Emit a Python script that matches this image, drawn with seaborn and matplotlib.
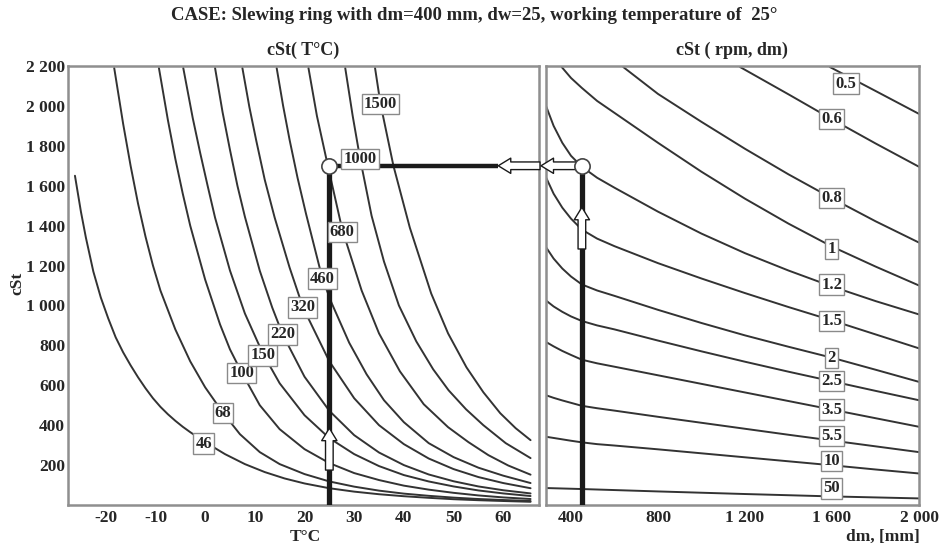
import matplotlib
matplotlib.use("Agg")
import matplotlib.pyplot as plt
import seaborn as sns
from matplotlib.patches import FancyArrowPatch, ArrowStyle

# ---------------- data ----------------
TITLE = "CASE: Slewing ring with dm=400 mm, dw=25, working temperature of  25°"
LEFT_TITLE = "cSt( T°C)"
RIGHT_TITLE = "cSt ( rpm, dm)"

# Left panel: viscosity (cSt) vs temperature for ISO VG grades
vg_labels = ["46", "68", "100", "150", "220", "320", "460", "680", "1000", "1500"]
t_vg46 = [-26.2, -25, -24, -22.5, -21, -19.5, -18, -16.5, -15, -13.5, -12, -10.5, -9, -7.5, -6, -4.5, -3, -1.5,
          0, 4, 8, 12, 16, 20, 25, 30, 35, 40, 45, 50, 55, 60, 65.5]
nu_vg46 = [1650, 1470, 1340, 1170, 1040, 935, 840, 765, 700, 640, 585, 535, 492, 455, 422, 392, 365, 340,
           315, 255, 205, 165, 133, 108, 84, 67, 54, 44, 36, 29, 24, 20, 16]
t_vg68 = [-18.3, -16.5, -15, -13.5, -12, -10.5, -9, -6, -3, 0, 3.6, 7, 11, 15, 20, 25, 30, 35, 40, 45, 50, 55, 60, 65.5]
nu_vg68 = [2190, 1910, 1700, 1510, 1345, 1200, 1075, 880, 720, 590, 462, 355, 265, 205, 155, 118, 92, 72, 57, 46, 37, 30, 25, 20]
t_vg100 = [-9.3, -7.5, -6, -4.5, -3, 0, 3, 5, 7.4, 11, 15, 20, 25, 30, 35, 40, 45, 50, 55, 60, 65.5]
nu_vg100 = [2190, 1930, 1735, 1560, 1400, 1130, 905, 780, 662, 500, 380, 280, 210, 160, 125, 97, 77, 61, 48, 38, 30]
t_vg150 = [-4.4, -2.5, -1, 0.5, 2, 5, 8, 11.6, 15, 20, 25, 30, 35, 40, 45, 50, 55, 60, 65.5]
nu_vg150 = [2190, 1940, 1765, 1600, 1440, 1175, 960, 760, 610, 450, 335, 255, 195, 150, 118, 93, 73, 58, 45]
t_vg220 = [2, 3.5, 5, 6.5, 8, 11, 13.5, 15.6, 20, 25, 30, 35, 40, 45, 50, 55, 60, 65.5]
nu_vg220 = [2190, 1970, 1780, 1600, 1445, 1174, 990, 855, 643, 472, 350, 263, 200, 153, 119, 93, 74, 58]
t_vg320 = [7.5, 8.9, 10.3, 12, 14, 17, 19.7, 25, 30, 35, 40, 45, 50, 55, 60, 65.5]
nu_vg320 = [2190, 1995, 1825, 1630, 1440, 1190, 990, 720, 535, 400, 305, 233, 180, 140, 110, 84]
t_vg460 = [14.4, 15.7, 17, 18.6, 20.3, 23.6, 25.5, 29, 32.5, 36, 40, 45, 50, 55, 60, 65.5]
nu_vg460 = [2190, 2000, 1830, 1640, 1460, 1135, 1010, 813, 655, 525, 415, 310, 240, 187, 147, 110]
t_vg680 = [20.8, 22.5, 24.7, 27.6, 31.5, 35, 39.2, 44, 48.9, 53, 57, 61, 65.5]
nu_vg680 = [2190, 1950, 1700, 1380, 1075, 860, 670, 505, 390, 315, 250, 198, 152]
t_vg1000 = [28.2, 29.7, 31.2, 33.5, 36, 39, 42.5, 45.9, 49, 52.5, 56, 60.5, 65.5]
nu_vg1000 = [2190, 1950, 1735, 1450, 1220, 1000, 820, 680, 575, 480, 400, 310, 235]
t_vg1500 = [34.2, 35.3, 37.9, 41.2, 45.5, 48.9, 52.6, 56, 59.4, 62.5, 65.5]
nu_vg1500 = [2190, 2010, 1700, 1390, 1060, 860, 690, 565, 460, 385, 325]
vg_label_t = [-0.3, 3.6, 7.4, 11.6, 15.6, 19.6, 23.6, 27.6, 31.2, 35.3]
vg_label_nu = [308, 462, 662, 750, 855, 990, 1135, 1367, 1733, 2008]

# Right panel: required viscosity (cSt) vs mean diameter dm for rpm values
rpm_labels = ["0.5", "0.6", "0.8", "1", "1.2", "1.5", "2", "2.5", "3.5", "5.5", "10", "50"]
dm_full = [285, 320, 360, 400, 450, 520, 600, 800, 1000, 1200, 1400, 1600, 1800, 2000]
dm_n05 = [1590, 1800, 2000]
nu_n05 = [2195, 2075, 1960]
dm_n06 = [1177, 1400, 1600, 1800, 2000]
nu_n06 = [2195, 2058, 1933, 1812, 1695]
dm_n08 = [640, 800, 1000, 1200, 1400, 1600, 1800, 2000]
nu_n08 = [2195, 2060, 1920, 1785, 1657, 1537, 1422, 1315]
dm_n1 = [357, 400, 450, 520, 600, 800, 1000, 1200, 1400, 1600, 1800, 2000]
nu_n1 = [2195, 2140, 2090, 2025, 1965, 1815, 1670, 1535, 1410, 1295, 1195, 1100]
nu_n12 = [2000, 1900, 1815, 1750, 1695, 1640, 1590, 1470, 1360, 1262, 1175, 1095, 1022, 955]
nu_n15 = [1642, 1560, 1490, 1435, 1380, 1335, 1297, 1212, 1135, 1062, 992, 925, 855, 785]
nu_n2 = [1292, 1235, 1185, 1145, 1105, 1075, 1048, 978, 912, 850, 793, 738, 678, 617]
nu_n25 = [1025, 995, 968, 945, 922, 900, 880, 824, 770, 718, 668, 620, 572, 525]
nu_n35 = [817, 795, 772, 752, 728, 710, 693, 650, 607, 564, 521, 478, 435, 392]
nu_n55 = [550, 537, 524, 512, 497, 485, 473, 442, 412, 382, 352, 323, 294, 265]
nu_n10 = [342, 336, 329, 322, 314, 305, 298, 279, 259, 239, 219, 199, 178, 158]
dm_n50 = [285, 450, 800, 1200, 1600, 2000]
nu_n50 = [85, 80, 68, 55, 43, 33]
rpm_label_dm = [1664, 1599, 1599, 1599, 1599, 1599, 1599, 1599, 1599, 1599, 1599, 1599]
rpm_label_nu = [2112, 1933, 1538, 1283, 1105, 922, 738, 620, 478, 345, 220, 83]

# Operating point
T_work = 25
nu_work = 1700
dm_work = 450

y_ticks = [200, 400, 600, 800, 1000, 1200, 1400, 1600, 1800, 2000, 2200]
t_ticks = [-20, -10, 0, 10, 20, 30, 40, 50, 60]
dm_ticks = [400, 800, 1200, 1600, 2000]

# ---------------- style ----------------
sns.set_theme(style="white")
plt.rcParams['font.family'] = ['Liberation Serif', 'DejaVu Serif']
plt.rcParams['font.weight'] = 'bold'

LINE = "#333333"
SPINE = "#8f8f8f"
W, H = 949, 546
FS_TICK = 12.5
FS_LAB = 12

fig = plt.figure(figsize=(W / 100, H / 100), dpi=100)
ax1 = fig.add_axes([68 / W, 1 - 505 / H, 471 / W, 439 / H])
ax2 = fig.add_axes([546 / W, 1 - 505 / H, 373 / W, 439 / H])

left_curves = [(t_vg46, nu_vg46), (t_vg68, nu_vg68), (t_vg100, nu_vg100), (t_vg150, nu_vg150),
               (t_vg220, nu_vg220), (t_vg320, nu_vg320), (t_vg460, nu_vg460), (t_vg680, nu_vg680),
               (t_vg1000, nu_vg1000), (t_vg1500, nu_vg1500)]
for t, nu in left_curves:
    sns.lineplot(x=t, y=nu, ax=ax1, color=LINE, lw=1.4, sort=False, estimator=None, zorder=2)

right_curves = [(dm_n05, nu_n05), (dm_n06, nu_n06), (dm_n08, nu_n08), (dm_n1, nu_n1),
                (dm_full, nu_n12), (dm_full, nu_n15), (dm_full, nu_n2), (dm_full, nu_n25),
                (dm_full, nu_n35), (dm_full, nu_n55), (dm_full, nu_n10), (dm_n50, nu_n50)]
for d, nu in right_curves:
    sns.lineplot(x=d, y=nu, ax=ax2, color=LINE, lw=1.4, sort=False, estimator=None, zorder=2)

ax1.set_xlim(-27.6, 67.2)
ax2.set_xlim(285, 2000)
for ax in (ax1, ax2):
    ax.set_ylim(0, 2200)
    ax.set_xlabel("")
    ax.set_ylabel("")
    for s in ax.spines.values():
        s.set_color(SPINE)
        s.set_linewidth(1.8)
    ax.tick_params(length=0, labelsize=FS_TICK)

def fmt(v):
    return f"{v:,}".replace(",", " ")

ax1.set_yticks(y_ticks)
ax1.set_yticklabels([fmt(v) for v in y_ticks], fontweight='bold')
ax1.set_xticks(t_ticks)
ax1.set_xticklabels([str(v) for v in t_ticks], fontweight='bold')
ax1.tick_params(axis='y', pad=2)
ax1.tick_params(axis='x', pad=3.5)
ax2.set_yticks(y_ticks)
ax2.set_yticklabels([])
ax2.set_xticks(dm_ticks)
ax2.set_xticklabels([fmt(v) for v in dm_ticks], fontweight='bold')
ax2.tick_params(axis='x', pad=3.5)

fig.text(303 / W, 1 - 50 / H, LEFT_TITLE, ha='center', va='center', fontsize=13, fontweight='bold')
fig.text(732 / W, 1 - 50 / H, RIGHT_TITLE, ha='center', va='center', fontsize=13, fontweight='bold')
fig.text(474 / W, 1 - 15 / H, TITLE, ha='center', va='center', fontsize=13.5, fontweight='bold')
fig.text(305 / W, 1 - 537 / H, "T°C", ha='center', va='center', fontsize=FS_TICK, fontweight='bold')
fig.text(883 / W, 1 - 537 / H, "dm, [mm]", ha='center', va='center', fontsize=FS_TICK, fontweight='bold')
fig.text(17 / W, 1 - 283 / H, "cSt", ha='center', va='center', rotation=90, fontsize=FS_TICK, fontweight='bold')

# curve labels
box = dict(boxstyle='square,pad=0.13', fc='white', ec='#8a8a8a', lw=1.0)
for lab, t, nu in zip(vg_labels, vg_label_t, vg_label_nu):
    ax1.text(t, nu, lab, ha='center', va='center', fontsize=FS_LAB, fontweight='bold', bbox=box, zorder=6)
for lab, d, nu in zip(rpm_labels, rpm_label_dm, rpm_label_nu):
    ax2.text(d, nu, lab, ha='center', va='center', fontsize=FS_LAB, fontweight='bold', bbox=box, zorder=6)

# operating path (thick lines)
ax1.plot([T_work, T_work], [0, nu_work], color='#1a1a1a', lw=3.8, zorder=3, solid_capstyle='butt')
ax1.plot([T_work, 59.0], [nu_work, nu_work], color='#1a1a1a', lw=3.2, zorder=3, solid_capstyle='butt')
ax2.plot([dm_work, dm_work], [0, nu_work], color='#1a1a1a', lw=3.8, zorder=3, solid_capstyle='butt')

style = ArrowStyle.Simple(head_length=9, head_width=11, tail_width=5.5)
def hollow_arrow(ax, a, b):
    p = FancyArrowPatch(a, b, arrowstyle=style, mutation_scale=1, fc='white', ec='#1a1a1a',
                        lw=1.0, shrinkA=0, shrinkB=0, transform=ax.transData, zorder=4, clip_on=False)
    ax.add_patch(p)

hollow_arrow(ax1, (T_work, 175), (T_work, 385))
hollow_arrow(ax2, (dm_work, 1283), (dm_work, 1492))
hollow_arrow(ax1, (67.4, nu_work), (59.0, nu_work))
hollow_arrow(ax2, (423, nu_work), (262, nu_work))

for ax, x in ((ax1, T_work), (ax2, dm_work)):
    ax.plot([x], [nu_work], 'o', ms=11, mfc='white', mec='#444444', mew=1.2, zorder=5, clip_on=False)

fig.savefig("out.png", dpi=100)
